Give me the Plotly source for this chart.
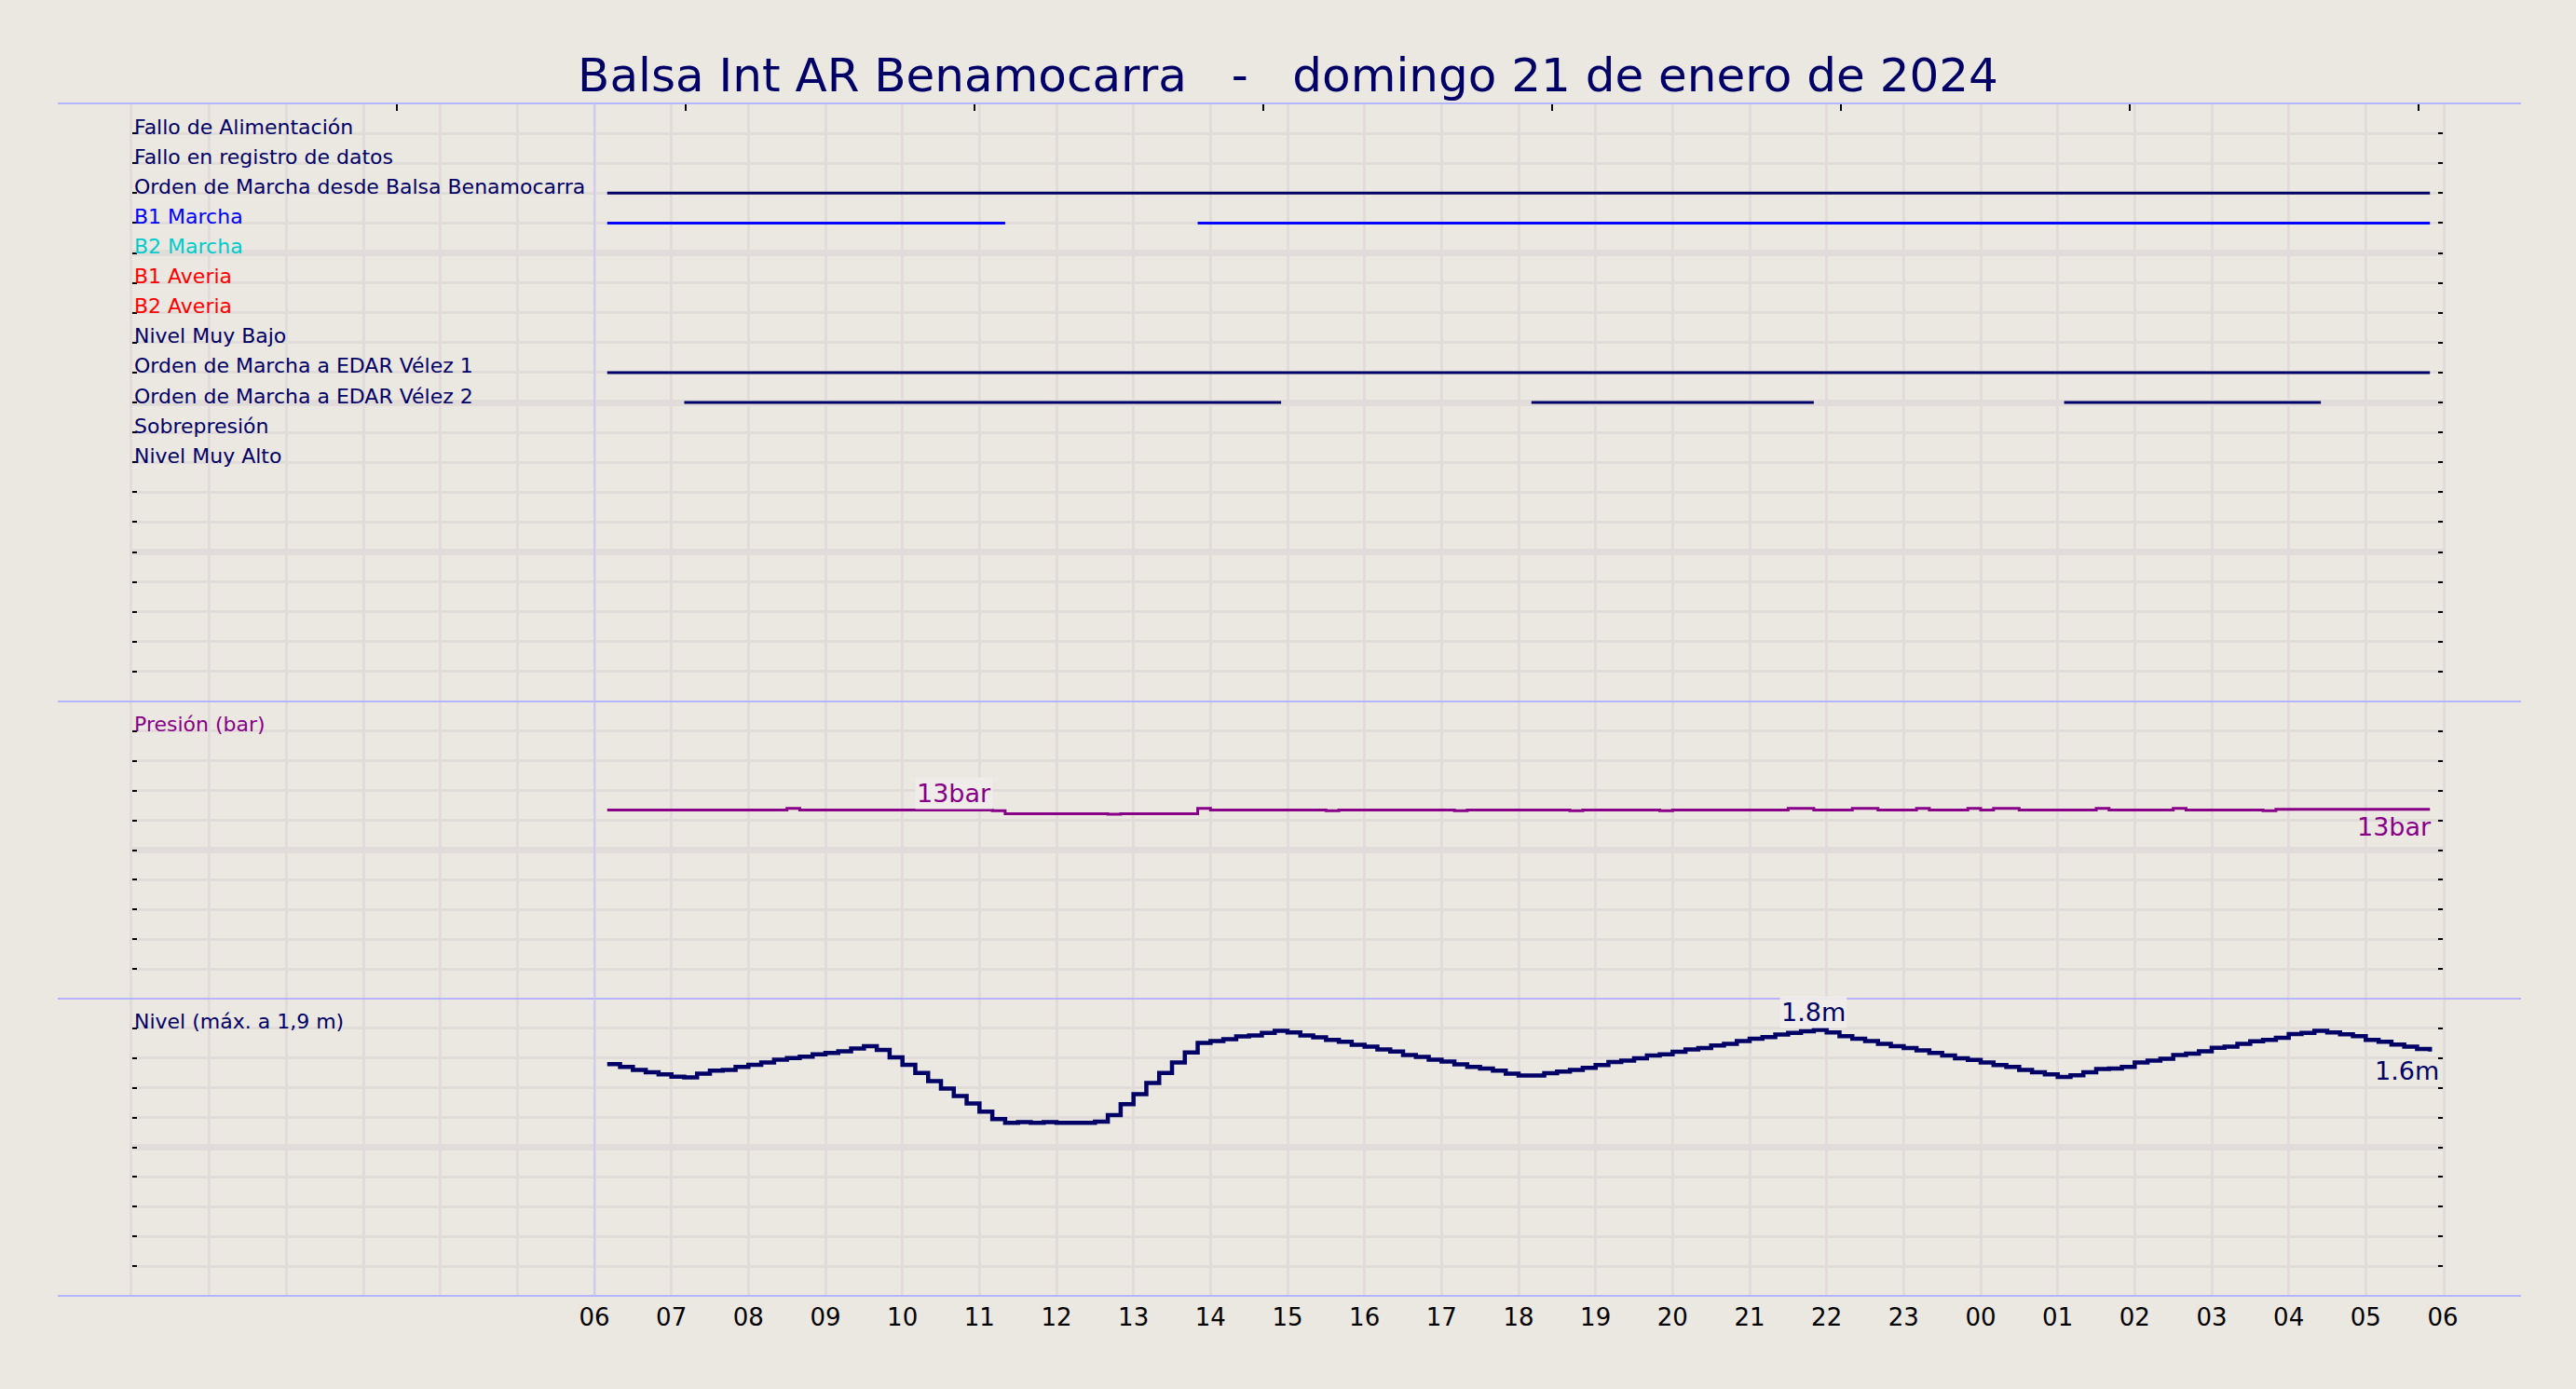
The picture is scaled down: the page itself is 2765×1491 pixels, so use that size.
import pandas as pd
import plotly.graph_objects as go
from plotly.subplots import make_subplots

# ---------------- data ----------------
TITLE = "Balsa Int AR Benamocarra   -   domingo 21 de enero de 2024"
DAY_START = "2024-01-21 00:00"
DAY_END = "2024-01-22 06:00"
SAMPLE_START = "2024-01-21 06:10"
SAMPLE_END = "2024-01-22 05:50"

SIGNAL_LABELS = [
    "Fallo de Alimentación",
    "Fallo en registro de datos",
    "Orden de Marcha desde Balsa Benamocarra",
    "B1 Marcha",
    "B2 Marcha",
    "B1 Averia",
    "B2 Averia",
    "Nivel Muy Bajo",
    "Orden de Marcha a EDAR Vélez 1",
    "Orden de Marcha a EDAR Vélez 2",
    "Sobrepresión",
    "Nivel Muy Alto",
]
SIGNAL_COLORS = [
    "#000066", "#000066", "#000066", "#0000FF", "#00CCCC", "#FF0000",
    "#FF0000", "#000066", "#000066", "#000066", "#000066", "#000066",
]

# on-intervals of the digital signals (start, end)
ORDEN_BALSA_ON = [("2024-01-21 06:10", "2024-01-22 05:50")]
B1_MARCHA_ON = [("2024-01-21 06:10", "2024-01-21 11:20"),
                ("2024-01-21 13:50", "2024-01-22 05:50")]
EDAR1_ON = [("2024-01-21 06:10", "2024-01-22 05:50")]
EDAR2_ON = [("2024-01-21 07:10", "2024-01-21 14:55"),
            ("2024-01-21 18:10", "2024-01-21 21:50"),
            ("2024-01-22 01:05", "2024-01-22 04:25")]

# 10-minute samples 06:10 .. 05:50 (one row per hour)
LEVEL_M = [
    1.56, 1.54, 1.52, 1.505, 1.49,
    1.475, 1.47, 1.495, 1.515, 1.52, 1.54,
    1.555, 1.57, 1.59, 1.60, 1.61, 1.625,
    1.635, 1.645, 1.665, 1.68, 1.655, 1.605,
    1.555, 1.50, 1.445, 1.395, 1.345, 1.295,
    1.24, 1.19, 1.165, 1.17, 1.165, 1.17,
    1.165, 1.165, 1.165, 1.173, 1.217, 1.29,
    1.358, 1.433, 1.50, 1.57, 1.638, 1.702,
    1.715, 1.727, 1.746, 1.752, 1.77, 1.783,
    1.773, 1.752, 1.74, 1.723, 1.71, 1.69,
    1.677, 1.658, 1.644, 1.62, 1.608, 1.59,
    1.577, 1.558, 1.54, 1.53, 1.515, 1.496,
    1.483, 1.483, 1.498, 1.51, 1.52, 1.535,
    1.554, 1.573, 1.583, 1.598, 1.617, 1.625,
    1.642, 1.658, 1.667, 1.685, 1.696, 1.715,
    1.73, 1.742, 1.758, 1.77, 1.78, 1.79,
    1.773, 1.748, 1.73, 1.715, 1.696, 1.68,
    1.667, 1.652, 1.635, 1.617, 1.598, 1.587,
    1.57, 1.554, 1.54, 1.52, 1.504, 1.49,
    1.473, 1.485, 1.504, 1.527, 1.53, 1.54,
    1.57, 1.583, 1.596, 1.62, 1.63, 1.646,
    1.67, 1.677, 1.696, 1.713, 1.723, 1.737,
    1.762, 1.77, 1.783, 1.773, 1.76, 1.748,
    1.723, 1.71, 1.692, 1.677, 1.662, 1.644,
]

PRESSURE_BAR = [
    12.7, 12.7, 12.7, 12.7, 12.7,
    12.7, 12.7, 12.7, 12.7, 12.7, 12.7,
    12.7, 12.7, 12.7, 12.8, 12.7, 12.7,
    12.7, 12.7, 12.7, 12.7, 12.7, 12.7,
    12.7, 12.7, 12.7, 12.7, 12.7, 12.7,
    12.7, 12.65, 12.45, 12.45, 12.45, 12.45,
    12.45, 12.45, 12.45, 12.45, 12.42, 12.45,
    12.45, 12.45, 12.45, 12.45, 12.45, 12.8,
    12.7, 12.7, 12.7, 12.7, 12.7, 12.7,
    12.7, 12.7, 12.7, 12.65, 12.7, 12.7,
    12.7, 12.7, 12.7, 12.7, 12.7, 12.7,
    12.7, 12.65, 12.7, 12.7, 12.7, 12.7,
    12.7, 12.7, 12.7, 12.7, 12.65, 12.7,
    12.7, 12.7, 12.7, 12.7, 12.7, 12.65,
    12.7, 12.7, 12.7, 12.7, 12.7, 12.7,
    12.7, 12.7, 12.7, 12.8, 12.8, 12.7,
    12.7, 12.7, 12.8, 12.8, 12.7, 12.7,
    12.7, 12.8, 12.7, 12.7, 12.7, 12.8,
    12.7, 12.8, 12.8, 12.7, 12.7, 12.7,
    12.7, 12.7, 12.7, 12.8, 12.7, 12.7,
    12.7, 12.7, 12.7, 12.8, 12.7, 12.7,
    12.7, 12.7, 12.7, 12.7, 12.65, 12.75,
    12.75, 12.75, 12.75, 12.75, 12.75, 12.75,
    12.75, 12.75, 12.75, 12.75, 12.75, 12.75,
]

TICK_LABELS = ["", "", "", "", "", "",
               "06", "07", "08", "09", "10", "11", "12", "13", "14", "15",
               "16", "17", "18", "19", "20", "21", "22", "23", "00", "01",
               "02", "03", "04", "05", "06"]

PRESSURE_LABEL = "Presión (bar)"
LEVEL_LABEL = "Nivel (máx. a 1,9 m)"
PRESSURE_MARK_TIME = "2024-01-21 10:40"

# ---------------- style ----------------
FONT = "DejaVu Sans"
NAVY = "#000066"
PURPLE = "#880088"
BG = "#EBE7E1"
GRID = "#E1DCDA"
FRAME = "#B4B4FF"
W, H = 2765, 1491

times = pd.date_range(SAMPLE_START, SAMPLE_END, freq="10min")
hours = pd.date_range(DAY_START, DAY_END, freq="1h")

fig = make_subplots(rows=3, cols=1, shared_xaxes=True, vertical_spacing=0,
                    row_heights=[642, 319, 319])


def seg_trace(intervals, row_idx, color):
    xs, ys = [], []
    for a, b in intervals:
        xs += [pd.Timestamp(a), pd.Timestamp(b), None]
        ys += [row_idx, row_idx, None]
    return go.Scatter(x=xs, y=ys, mode="lines", line=dict(color=color, width=3),
                      hoverinfo="skip", showlegend=False)


signals = [
    (ORDEN_BALSA_ON, 3, NAVY),
    (B1_MARCHA_ON, 4, "#0000FF"),
    (EDAR1_ON, 9, NAVY),
    (EDAR2_ON, 10, NAVY),
]
for iv, r, c in signals:
    fig.add_trace(seg_trace(iv, r, c), row=1, col=1)

fig.add_trace(go.Scatter(x=times, y=PRESSURE_BAR, mode="lines", line_shape="hv",
                         line=dict(color=PURPLE, width=3), showlegend=False),
              row=2, col=1)
fig.add_trace(go.Scatter(x=times, y=LEVEL_M, mode="lines", line_shape="hv",
                         line=dict(color=NAVY, width=4.5), showlegend=False),
              row=3, col=1)

LABEL_SHIFT = -7.5
ann = []
for i, (lab, col) in enumerate(zip(SIGNAL_LABELS, SIGNAL_COLORS), start=1):
    ann.append(dict(x=pd.Timestamp(DAY_START), y=i, xref="x", yref="y",
                    text=lab, showarrow=False, xanchor="left", yanchor="bottom",
                    yshift=LABEL_SHIFT, font=dict(family=FONT, size=22, color=col)))
ann.append(dict(x=pd.Timestamp(DAY_START), y=18, xref="x", yref="y2",
                text=PRESSURE_LABEL, showarrow=False, xanchor="left",
                yanchor="bottom", yshift=LABEL_SHIFT,
                font=dict(family=FONT, size=22, color=PURPLE)))
ann.append(dict(x=pd.Timestamp(DAY_START), y=1.8, xref="x", yref="y3",
                text=LEVEL_LABEL, showarrow=False, xanchor="left",
                yanchor="bottom", yshift=LABEL_SHIFT,
                font=dict(family=FONT, size=22, color=NAVY)))

BOX = "rgba(239,237,233,0.92)"
pi = list(times).index(pd.Timestamp(PRESSURE_MARK_TIME))
ann.append(dict(x=times[pi], y=PRESSURE_BAR[pi], xref="x", yref="y2",
                text=f"{round(PRESSURE_BAR[pi])}bar", showarrow=False,
                xanchor="center", yanchor="bottom", bgcolor=BOX,
                font=dict(family=FONT, size=27, color=PURPLE)))
ann.append(dict(x=times[-1], y=PRESSURE_BAR[-1], xref="x", yref="y2",
                text=f"{round(PRESSURE_BAR[-1])}bar", showarrow=False,
                xanchor="right", yanchor="top", yshift=-1, xshift=4,
                font=dict(family=FONT, size=27, color=PURPLE)))
li = max(range(len(LEVEL_M)), key=lambda k: LEVEL_M[k])
ann.append(dict(x=times[li], y=LEVEL_M[li], xref="x", yref="y3",
                text=f"{LEVEL_M[li]:.1f}m", showarrow=False,
                xanchor="center", yanchor="bottom", yshift=2, bgcolor=BOX,
                font=dict(family=FONT, size=27, color=NAVY)))
ann.append(dict(x=times[-1], y=LEVEL_M[-1], xref="x", yref="y3",
                text=f"{LEVEL_M[-1]:.1f}m", showarrow=False,
                xanchor="right", yanchor="top", yshift=-3, xshift=12,
                font=dict(family=FONT, size=27, color=NAVY)))

# axes
common_x = dict(range=[pd.Timestamp(DAY_START), pd.Timestamp(DAY_END)],
                showline=False, zeroline=False)
fig.update_xaxes(**common_x)
# top panel: odd tick marks on top edge, hourly grid via minor
fig.update_layout(xaxis=dict(
    side="top", tick0="2024-01-21 03:26:24", dtick=3.75 * 3600000,
    ticks="inside", ticklen=8, tickwidth=2, tickcolor="black",
    showgrid=False, showticklabels=False,
    minor=dict(tick0=DAY_START, dtick=3600000, showgrid=True,
               gridcolor=GRID, gridwidth=3, ticks="")))
fig.update_layout(xaxis2=dict(tick0=DAY_START, dtick=3600000, showgrid=True,
                              gridcolor=GRID, gridwidth=3, ticks="",
                              showticklabels=False))
fig.update_layout(xaxis3=dict(tickmode="array", tickvals=list(hours),
                              ticktext=TICK_LABELS, showgrid=True,
                              gridcolor=GRID, gridwidth=3, ticks="",
                              ticklabelstandoff=5,
                              tickfont=dict(family=FONT, size=26, color="black")))


def yax(rng, major, minor):
    return dict(range=rng, tickmode="linear", tick0=0, dtick=major,
                showgrid=True, gridcolor=GRID, gridwidth=7,
                ticks="inside", ticklen=5, tickwidth=2, tickcolor="black",
                showticklabels=False, zeroline=False,
                showline=True, linecolor=GRID, linewidth=3, mirror="ticks",
                minor=dict(dtick=minor, tick0=0, showgrid=True, gridcolor=GRID,
                           gridwidth=3, ticks="inside", ticklen=5,
                           tickwidth=2, tickcolor="black"))


fig.update_layout(yaxis=yax([20, 0], 5, 1),
                  yaxis2=yax([0, 20], 10, 2),
                  yaxis3=yax([0, 2], 1, 0.2))

# frame lines
x_left = -80 / (W - 142 - 143)
x_right = 1 + 84 / (W - 142 - 143)
bounds = [fig.layout.yaxis.domain[1], fig.layout.yaxis.domain[0],
          fig.layout.yaxis2.domain[0], fig.layout.yaxis3.domain[0]]
shapes = []
for yb in bounds:
    shapes.append(dict(type="line", xref="paper", yref="paper", x0=x_left,
                       x1=x_right, y0=yb, y1=yb,
                       line=dict(color=FRAME, width=2), layer="above"))
shapes.append(dict(type="line", xref="x", yref="paper",
                   x0=pd.Timestamp(SAMPLE_START).floor("h"),
                   x1=pd.Timestamp(SAMPLE_START).floor("h"), y0=0, y1=1,
                   line=dict(color="#C4C4FF", width=1.5), layer="above"))

fig.update_layout(
    width=W, height=H,
    paper_bgcolor=BG, plot_bgcolor=BG,
    margin=dict(l=142, r=143, t=111, b=100),
    title=dict(text=TITLE.replace(" ", "\u00a0"), x=0.5, xanchor="center",
               y=1 - 80 / H, yanchor="middle",
               font=dict(family=FONT, size=50, color=NAVY)),
    annotations=ann, shapes=shapes, showlegend=False,
    font=dict(family=FONT),
)

fig.write_html("out.html",
               config={"displayModeBar": False},
               post_script="document.body.style.margin='0px';"
                           "document.body.style.background='" + BG + "';")
